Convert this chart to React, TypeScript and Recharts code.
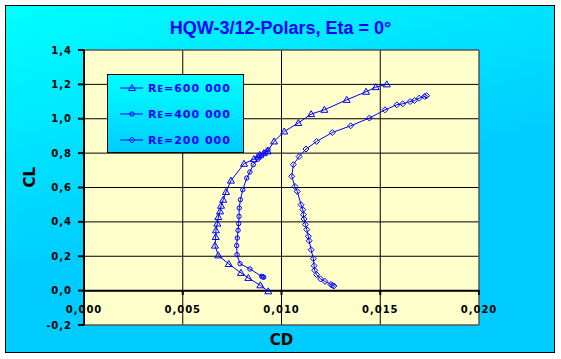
import {
  ScatterChart,
  Scatter,
  XAxis,
  YAxis,
  CartesianGrid,
  ReferenceLine,
  ReferenceArea,
} from "recharts";

const BLUE = "#0000FF";
const FONT = "'DejaVu Sans', sans-serif";

// Re = 600 000 (triangles)
const RE600_CD = [
  0.00933, 0.00893, 0.00832, 0.00795, 0.00733, 0.0068, 0.00663, 0.00667, 0.00668, 0.00675, 0.0068, 0.00689,
  0.00694, 0.00705, 0.00719, 0.00744, 0.0081, 0.0086, 0.0088, 0.0089, 0.0091, 0.0093, 0.00962, 0.01014, 0.01085,
  0.0115, 0.01217, 0.0133, 0.01428, 0.01477, 0.01533,
];
const RE600_CL = [
  -0.004, 0.031, 0.074, 0.103, 0.155, 0.205, 0.262, 0.312, 0.351, 0.39, 0.428, 0.461, 0.494, 0.529, 0.574, 0.64,
  0.738, 0.765, 0.78, 0.79, 0.8, 0.81, 0.868, 0.926, 0.975, 1.027, 1.052, 1.11, 1.157, 1.184, 1.2,
];

// Re = 400 000 (circles)
const RE400_CD = [
  0.0091, 0.00905, 0.009, 0.0084, 0.0079, 0.00775, 0.00773, 0.00776, 0.0078, 0.00783, 0.00785, 0.00786, 0.00792,
  0.00804, 0.00824, 0.0084, 0.00857, 0.0088, 0.009, 0.0092, 0.00932,
];
const RE400_CL = [
  0.078, 0.08, 0.083, 0.126, 0.157, 0.209, 0.262, 0.306, 0.351, 0.39, 0.432, 0.481, 0.529, 0.587, 0.655, 0.69,
  0.733, 0.765, 0.785, 0.805, 0.82,
];

// Re = 200 000 (diamonds)
const RE200_CD = [
  0.01265, 0.01258, 0.0125, 0.0122, 0.01198, 0.01178, 0.01168, 0.01165, 0.01161, 0.0115, 0.0114, 0.01136, 0.01128,
  0.01121, 0.01114, 0.01111, 0.01108, 0.01099, 0.0108, 0.01068, 0.01052, 0.0106, 0.01089, 0.01124, 0.01178,
  0.01257, 0.0135, 0.01445, 0.01524, 0.01584, 0.01614, 0.01651, 0.01673, 0.01698, 0.01725, 0.01735,
];
const RE200_CL = [
  0.027, 0.031, 0.036, 0.054, 0.068, 0.093, 0.118, 0.145, 0.186, 0.238, 0.29, 0.316, 0.355, 0.384, 0.417, 0.442,
  0.471, 0.5, 0.577, 0.606, 0.665, 0.733, 0.78, 0.824, 0.868, 0.92, 0.959, 1.004, 1.052, 1.081, 1.087, 1.1, 1.106,
  1.12, 1.13, 1.134,
];

const X_TICKS = [0, 0.005, 0.01, 0.015, 0.02];
const Y_TICKS = [-0.2, 0, 0.2, 0.4, 0.6, 0.8, 1.0, 1.2, 1.4];

const zip = (cd: number[], cl: number[]) => cd.map((x, i) => ({ cd: x, cl: cl[i] }));

const triangle = (p: any) => (
  <path
    d={`M${p.cx},${p.cy - 3.5} L${p.cx + 3.5},${p.cy + 2.5} L${p.cx - 3.5},${p.cy + 2.5} Z`}
    stroke={BLUE}
    fill="none"
  />
);
const circle = (p: any) => <circle cx={p.cx} cy={p.cy} r={2.2} stroke={BLUE} fill="none" />;
const diamond = (p: any) => (
  <path
    d={`M${p.cx},${p.cy - 3} L${p.cx + 3},${p.cy} L${p.cx},${p.cy + 3} L${p.cx - 3},${p.cy} Z`}
    stroke={BLUE}
    fill="none"
  />
);

const SERIES = [
  { name: "600 000", data: zip(RE600_CD, RE600_CL), shape: triangle },
  { name: "400 000", data: zip(RE400_CD, RE400_CL), shape: circle },
  { name: "200 000", data: zip(RE200_CD, RE200_CL), shape: diamond },
];

const comma = (v: number, d: number) => v.toFixed(d).replace(".", ",");

// x axis crosses at CL = 0, so ticks are drawn up from the plot bottom
const XTick = (p: any) => (
  <g>
    <line x1={p.x} x2={p.x} y1={p.y - 35} y2={p.y - 30} stroke="#000" strokeWidth={2} />
    <text
      x={p.x}
      y={p.y - 12}
      textAnchor="middle"
      fontFamily={FONT}
      fontWeight="bold"
      fontSize={10}
      letterSpacing={1}
      fill="#000"
    >
      {comma(p.payload.value, 3)}
    </text>
  </g>
);

const Legend = () => (
  <div
    style={{
      position: "absolute",
      left: 107,
      top: 74,
      width: 135,
      height: 77,
      border: "1px solid #000",
      background: "linear-gradient(180deg, #00FFFF, #00CCFF)",
    }}
  >
    {SERIES.map((s, i) => (
      <div key={i} style={{ display: "flex", alignItems: "center", height: 26 }}>
        <svg width={40} height={12}>
          <line x1={12} x2={35} y1={6} y2={6} stroke={BLUE} />
          {s.shape({ cx: 24, cy: 6 })}
        </svg>
        <span
          style={{
            fontFamily: FONT,
            fontWeight: "bold",
            fontSize: 11,
            letterSpacing: 1,
            color: BLUE,
            fontVariant: "small-caps",
            whiteSpace: "nowrap",
          }}
        >
          Re={s.name}
        </span>
      </div>
    ))}
  </div>
);

export default function App() {
  return (
    <div style={{ position: "absolute", left: 0, top: 0, width: 561, height: 359 }}>
      <div
        style={{
          position: "absolute",
          left: 5,
          top: 5,
          width: 548,
          height: 346,
          border: "1px solid #000",
          background: "linear-gradient(165deg, #00FFFF 0%, #00CCFF 55%, #00CCFF 100%)",
        }}
      />
      <div
        style={{
          position: "absolute",
          left: 0,
          top: 18,
          width: 561,
          textAlign: "center",
          fontFamily: "'Liberation Sans', Arial, sans-serif",
          fontWeight: "bold",
          fontSize: 18,
          color: BLUE,
        }}
      >
        HQW-3/12-Polars, Eta = 0°
      </div>
      <div style={{ position: "absolute", left: 0, top: 0 }}>
        <ScatterChart width={561} height={359} margin={{ top: 50, right: 82, bottom: 4, left: 50 }}>
          <CartesianGrid fill="#FFFFCC" fillOpacity={1} stroke="#000" strokeWidth={1} />
          <ReferenceArea
            x1={0}
            x2={0.02}
            y1={-0.2}
            y2={1.4}
            fill="none"
            stroke="#808080"
            strokeWidth={1}
            ifOverflow="visible"
          />
          <XAxis
            type="number"
            dataKey="cd"
            domain={[0, 0.02]}
            ticks={X_TICKS}
            height={30}
            axisLine={false}
            tickLine={false}
            tickSize={0}
            tickMargin={0}
            tick={XTick}
            interval={0}
            label={{
              value: "CD",
              position: "insideBottom",
              offset: 10,
              fontFamily: FONT,
              fontWeight: "bold",
              fontSize: 15,
              fill: "#000",
            }}
          />
          <YAxis
            type="number"
            dataKey="cl"
            domain={[-0.2, 1.4]}
            ticks={Y_TICKS}
            width={34}
            interval={0}
            axisLine={{ stroke: "#000", strokeWidth: 2 }}
            tickLine={{ stroke: "#000", strokeWidth: 2 }}
            tickSize={6}
            tickMargin={6}
            tickFormatter={(v: number) => comma(v, 1)}
            tick={{ fontFamily: FONT, fontWeight: "bold", fontSize: 10, fill: "#000", letterSpacing: 1 }}
            label={{
              value: "CL",
              angle: -90,
              position: "insideLeft",
              offset: -20,
              fontFamily: FONT,
              fontWeight: "bold",
              fontSize: 15,
              fill: "#000",
            }}
          />
          <ReferenceLine y={0} stroke="#000" strokeWidth={2} />
          {SERIES.map((s) => (
            <Scatter
              key={s.name}
              name={s.name}
              data={s.data}
              shape={s.shape}
              line={{ stroke: BLUE, strokeWidth: 1 }}
              lineType="joint"
              isAnimationActive={false}
            />
          ))}
        </ScatterChart>
      </div>
      <Legend />
    </div>
  );
}
